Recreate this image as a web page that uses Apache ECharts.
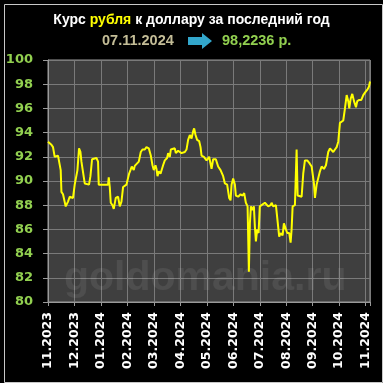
<!DOCTYPE html>
<html><head><meta charset="utf-8">
<script src="https://cdn.jsdelivr.net/npm/echarts@6/dist/echarts.min.js"></script>
<style>html,body{margin:0;padding:0;background:#000;}#c{width:383px;height:383px;}</style>
</head><body><div id="c"></div>
<script>
var monthLabels = ['11.2023','12.2023','01.2024','02.2024','03.2024','04.2024','05.2024','06.2024','07.2024','08.2024','09.2024','10.2024','11.2024'];
var yTicks = [80,82,84,86,88,90,92,94,96,98,100];
// position in months since start, rate
var months = [0,0.064,0.129,0.189,0.253,0.378,0.442,0.48,0.507,0.567,0.605,0.669,0.756,0.82,0.885,0.945,1.009,1.074,1.112,1.172,1.225,1.263,1.323,1.388,1.452,1.55,1.603,1.664,1.739,1.83,1.89,1.917,2.268,2.295,2.333,2.371,2.435,2.484,2.56,2.647,2.711,2.775,2.836,2.9,2.964,3.062,3.115,3.164,3.24,3.278,3.342,3.429,3.505,3.569,3.656,3.72,3.807,3.883,3.947,3.996,4.06,4.098,4.136,4.185,4.25,4.299,4.348,4.412,4.499,4.537,4.601,4.639,4.703,4.79,4.828,4.915,5.043,5.168,5.232,5.293,5.357,5.422,5.482,5.52,5.573,5.633,5.709,5.762,5.8,5.887,5.924,5.989,6.011,6.087,6.178,6.238,6.34,6.427,6.518,6.616,6.681,6.767,6.843,6.896,6.934,6.994,7.059,7.096,7.183,7.274,7.35,7.41,7.448,7.474,7.539,7.588,7.626,7.664,7.728,7.777,7.815,7.853,7.902,7.955,8.0,8.068,8.193,8.318,8.408,8.446,8.507,8.571,8.609,8.673,8.733,8.786,8.862,8.911,8.987,9.036,9.112,9.164,9.202,9.24,9.327,9.391,9.429,9.489,9.58,9.641,9.705,9.792,9.868,9.958,10.045,10.083,10.147,10.208,10.272,10.336,10.423,10.499,10.586,10.65,10.714,10.775,10.839,10.904,10.964,11.028,11.093,11.153,11.217,11.282,11.342,11.38,11.433,11.493,11.558,11.633,11.682,11.758,11.834,11.909,11.973,12.038,12.076,12.125,12.163];
var rates = [93.25,93.2,93.0,92.8,92.0,92.1,92.0,90.9,89.1,88.9,89.0,87.9,88.3,88.7,88.75,88.6,89.7,89.8,90.9,92.7,92.4,91.6,91.5,89.8,89.7,89.7,90.4,91.8,91.9,91.9,91.6,89.7,89.7,90.3,89.5,88.2,88.0,87.7,88.6,88.7,87.9,88.3,89.5,89.5,89.7,90.6,90.9,91.2,90.9,91.25,91.2,91.6,92.4,92.6,92.6,92.8,92.7,92.1,91.3,90.9,91.3,91.0,90.4,90.8,90.6,90.6,91.3,91.7,91.9,92.3,92.0,92.6,92.7,92.7,92.3,92.5,92.3,92.4,92.6,93.4,93.8,93.5,94.1,94.35,93.8,93.4,93.3,92.8,92.1,92.0,92.0,91.7,91.8,92.0,91.0,91.8,91.8,91.2,90.9,90.4,89.8,89.7,88.6,88.4,89.7,90.2,89.7,88.8,88.7,88.9,88.8,89.0,88.9,88.2,87.9,82.5,86.5,87.9,87.6,87.9,86.2,85.0,86.0,85.7,87.9,88.0,88.2,87.9,88.0,88.2,87.9,87.8,88.0,87.9,85.4,85.7,85.5,86.5,86.0,85.7,85.7,84.9,86.0,87.9,88.0,92.6,88.8,88.7,88.7,90.6,91.7,91.7,91.5,91.2,89.8,88.6,89.7,89.8,90.8,91.2,91.0,91.3,92.4,92.7,92.8,92.4,92.6,92.8,93.25,94.8,94.9,95.0,96.0,97.1,96.6,96.0,96.8,97.2,96.6,96.1,96.6,96.7,96.7,97.1,97.3,97.25,97.6,97.8,98.2236];
var titleParts = ['Курс ', 'рубля', ' к доллару за последний год'];
var lastDate = '07.11.2024';
var lastValue = '98,2236 р.';

var data = months.map(function(m,i){return [m, rates[i]];});
var chart = echarts.init(document.getElementById('c'), null, {renderer:'canvas'});
var FF = 'DejaVu Sans';
var TF = 'Liberation Sans';
chart.setOption({
  backgroundColor:'#000',
  animation:false,
  title:{
    text:'{w|'+titleParts[0]+'}{y|'+titleParts[1]+'}{w|'+titleParts[2]+'}',
    left:'center', top:8,
    textStyle:{rich:{
      w:{color:'#ffffff',fontFamily:TF,fontWeight:'bold',fontSize:14},
      y:{color:'#ffff00',fontFamily:TF,fontWeight:'bold',fontSize:14}
    }}
  },
  grid:{left:48,right:13,top:60,bottom:81,show:true,backgroundColor:'#3f3f3f',borderColor:'#9a9a9a',borderWidth:1},
  xAxis:{
    type:'value', min:0, max:months[months.length-1], interval:1,
    axisLine:{show:true,lineStyle:{color:'#9a9a9a'}},
    axisTick:{show:true,length:4,lineStyle:{color:'#9a9a9a'}},
    splitLine:{show:true,lineStyle:{color:'#7a7a7a',width:1}},
    axisLabel:{
      rotate:90, color:'#ffffff', fontFamily:FF, fontWeight:'bold', fontSize:12.5, margin:10,
      formatter:function(v){var r=Math.round(v); return Math.abs(v-r)<0.01 && monthLabels[r]?monthLabels[r]:'';}
    }
  },
  yAxis:{
    type:'value', min:yTicks[0], max:yTicks[yTicks.length-1], interval:2,
    axisLine:{show:true,lineStyle:{color:'#9a9a9a'}},
    axisTick:{show:true,length:5,lineStyle:{color:'#9a9a9a'}},
    splitLine:{show:true,lineStyle:{color:'#7a7a7a',width:1}},
    axisLabel:{color:'#92d050',fontFamily:FF,fontWeight:'bold',fontSize:13,margin:15}
  },
  graphic:[
    {type:'rect',left:2,top:2,shape:{width:378,height:378},style:{fill:'none',stroke:'#c8c8c8',lineWidth:1},z:100},
    {type:'text',left:102,top:33,style:{text:lastDate,fill:'#c4bd97',font:'bold 14.5px "Liberation Sans"'}},
    {type:'polygon',shape:{points:[[188,37],[202,37],[202,33],[212,41],[202,49],[202,45],[188,45]]},style:{fill:'#33a7cc'}},
    {type:'text',left:222,top:33,style:{text:lastValue,fill:'#92d050',font:'bold 14.5px "Liberation Sans"'}},
    {type:'text',left:64,top:258,style:{text:'goldomania.ru',fill:'rgba(255,255,255,0.08)',font:'bold 41px "Liberation Sans"'},z:1}
  ],
  series:[{
    type:'line', data:data, showSymbol:false, symbol:'none',
    lineStyle:{color:'#ffff00',width:2}, z:5
  }]
});
</script></body></html>
